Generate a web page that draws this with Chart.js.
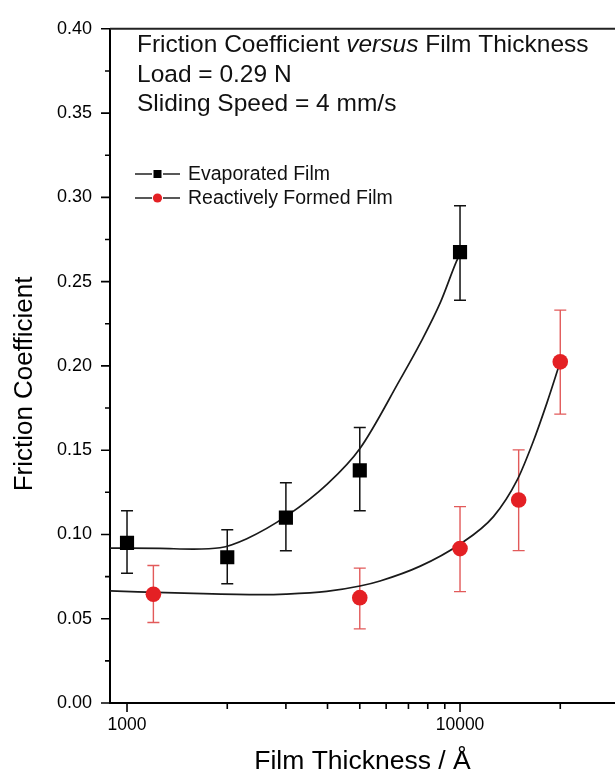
<!DOCTYPE html>
<html>
<head>
<meta charset="utf-8">
<script src="https://cdn.jsdelivr.net/npm/chart.js@4.4.0/dist/chart.umd.min.js"></script>
<style>
  html, body { margin: 0; padding: 0; background: #fff; }
  #wrap { width: 615px; height: 772px; }
</style>
</head>
<body>
<div id="wrap"><canvas id="myChart"></canvas></div>
<script>
// measured points (thickness in Å, friction coefficient)
const evapX = [1000, 2000, 3000, 5000, 10000];
const evapY = [0.095, 0.0865, 0.110, 0.138, 0.2675];
const evapErrLow = [0.077, 0.0708, 0.0904, 0.114, 0.239];
const evapErrHigh = [0.114, 0.1028, 0.1306, 0.1635, 0.295];

const reactX = [1200, 5000, 10000, 15000, 20000];
const reactY = [0.0645, 0.0625, 0.0916, 0.1204, 0.2024];
const reactErrLow = [0.0478, 0.044, 0.0661, 0.0904, 0.1714];
const reactErrHigh = [0.0816, 0.080, 0.1165, 0.1502, 0.2331];

// fitted curves
const evapFitX = [889, 1256, 1582, 1902, 2290, 3017, 4000, 5006, 6612, 7598, 8725, 9756, 10000];
const evapFitY = [0.0919, 0.0917, 0.0913, 0.0921, 0.0975, 0.111, 0.130, 0.151, 0.192, 0.2135, 0.2375, 0.262, 0.2665];
const reactFitX = [889, 1582, 2508, 3000, 3976, 5006, 5753, 7598, 9931, 12600, 14840, 16560, 18250, 20000];
const reactFitY = [0.0665, 0.0650, 0.0643, 0.0646, 0.0662, 0.0694, 0.0724, 0.0812, 0.0939, 0.1106, 0.1322, 0.1547, 0.1782, 0.2024];

// axis ticks
const xTicks = [1000, 2000, 3000, 4000, 5000, 6000, 7000, 8000, 9000, 10000, 20000];
const xLabels = [1000, 10000];
const yTicks = [0, 0.025, 0.05, 0.075, 0.1, 0.125, 0.15, 0.175, 0.2, 0.225, 0.25, 0.275, 0.3, 0.325, 0.35, 0.375, 0.4];

const FONT = '"Liberation Sans", Arial, Helvetica, sans-serif';
const RED = 'rgb(228,32,36)';
const RED_BAR = 'rgb(226,90,90)';

Chart.defaults.font.family = FONT;
Chart.defaults.color = '#000';

const toPts = (xs, ys) => xs.map((x, i) => ({ x: x, y: ys[i] }));
const isMajorY = v => Math.round(v * 1000) % 50 === 0;

// error bars, drawn under the markers
const errorBars = {
  id: 'errorBars',
  beforeDatasetsDraw(chart) {
    const ctx = chart.ctx;
    const xs = chart.scales.x, ys = chart.scales.y;
    chart.data.datasets.forEach(ds => {
      if (!ds.errLow) return;
      ctx.save();
      ctx.strokeStyle = ds.errColor;
      ctx.lineWidth = ds.errWidth;
      ds.data.forEach((p, i) => {
        const px = xs.getPixelForValue(p.x);
        const y1 = ys.getPixelForValue(ds.errLow[i]);
        const y2 = ys.getPixelForValue(ds.errHigh[i]);
        ctx.beginPath();
        ctx.moveTo(px, y1); ctx.lineTo(px, y2);
        ctx.moveTo(px - 6, y1); ctx.lineTo(px + 6, y1);
        ctx.moveTo(px - 6, y2); ctx.lineTo(px + 6, y2);
        ctx.stroke();
      });
      ctx.restore();
    });
  }
};

// tick marks, top frame, notes and legend
const decorations = {
  id: 'decorations',
  afterDraw(chart) {
    const ctx = chart.ctx;
    const area = chart.chartArea;
    const xs = chart.scales.x, ys = chart.scales.y;
    ctx.save();
    ctx.strokeStyle = '#000';
    ctx.lineWidth = 1.6;
    ctx.beginPath();
    xs.ticks.forEach(t => {
      const px = xs.getPixelForValue(t.value);
      const len = xLabels.includes(t.value) ? 9 : 6;
      ctx.moveTo(px, area.bottom); ctx.lineTo(px, area.bottom + len);
    });
    ys.ticks.forEach(t => {
      const py = ys.getPixelForValue(t.value);
      const len = isMajorY(t.value) ? 9 : 5;
      ctx.moveTo(area.left, py); ctx.lineTo(area.left - len, py);
    });
    ctx.stroke();

    // top frame line
    ctx.strokeStyle = '#222';
    ctx.lineWidth = 2;
    ctx.beginPath();
    ctx.moveTo(area.left, area.top); ctx.lineTo(area.right, area.top);
    ctx.stroke();

    // notes
    ctx.fillStyle = '#111';
    ctx.textBaseline = 'alphabetic';
    ctx.textAlign = 'left';
    let x = 137;
    ctx.font = '24.5px ' + FONT;
    const a = 'Friction Coefficient ';
    ctx.fillText(a, x, 52);
    x += ctx.measureText(a).width;
    ctx.font = 'italic 24.5px ' + FONT;
    ctx.fillText('versus', x, 52);
    x += ctx.measureText('versus').width;
    ctx.font = '24.5px ' + FONT;
    ctx.fillText(' Film Thickness', x, 52);
    ctx.fillText('Load = 0.29 N', 137, 82);
    ctx.fillText('Sliding Speed = 4 mm/s', 137, 111);

    // legend
    const rows = [
      { y: 174, text: chart.data.datasets[0].label, shape: 'rect' },
      { y: 198, text: chart.data.datasets[1].label, shape: 'circle' }
    ];
    ctx.font = '19.5px ' + FONT;
    ctx.textBaseline = 'middle';
    rows.forEach(r => {
      ctx.strokeStyle = '#222';
      ctx.lineWidth = 1.6;
      ctx.beginPath();
      ctx.moveTo(135, r.y); ctx.lineTo(152, r.y);
      ctx.moveTo(163, r.y); ctx.lineTo(180, r.y);
      ctx.stroke();
      if (r.shape === 'rect') {
        ctx.fillStyle = '#000';
        ctx.fillRect(153.5, r.y - 4, 8, 8);
      } else {
        ctx.fillStyle = RED;
        ctx.beginPath();
        ctx.arc(157.5, r.y, 4.6, 0, Math.PI * 2);
        ctx.fill();
      }
      ctx.fillStyle = '#111';
      ctx.fillText(r.text, 188, r.y + 1);
    });
    ctx.restore();
  }
};

const ctx = document.getElementById('myChart').getContext('2d');
new Chart(ctx, {
  type: 'scatter',
  data: {
    datasets: [
      {
        label: 'Evaporated Film',
        data: toPts(evapX, evapY),
        errLow: evapErrLow, errHigh: evapErrHigh,
        errColor: '#111', errWidth: 1.5,
        pointStyle: 'rect',
        pointRadius: 10,
        backgroundColor: '#000',
        borderColor: '#000',
        borderWidth: 0
      },
      {
        label: 'Reactively Formed Film',
        data: toPts(reactX, reactY),
        errLow: reactErrLow, errHigh: reactErrHigh,
        errColor: RED_BAR, errWidth: 1.4,
        pointStyle: 'circle',
        pointRadius: 7.8,
        backgroundColor: RED,
        borderColor: RED,
        borderWidth: 0
      },
      {
        label: 'evap fit',
        data: toPts(evapFitX, evapFitY),
        showLine: true,
        pointRadius: 0,
        borderColor: '#1a1a1a',
        borderWidth: 1.7,
        cubicInterpolationMode: 'monotone'
      },
      {
        label: 'reactive fit',
        data: toPts(reactFitX, reactFitY),
        showLine: true,
        pointRadius: 0,
        borderColor: '#1a1a1a',
        borderWidth: 1.7,
        cubicInterpolationMode: 'monotone'
      }
    ]
  },
  options: {
    responsive: true,
    maintainAspectRatio: false,
    animation: false,
    layout: { autoPadding: false, padding: { top: 23, right: 0, left: 0, bottom: 0 } },
    plugins: {
      legend: { display: false },
      tooltip: { enabled: false }
    },
    scales: {
      x: {
        type: 'logarithmic',
        min: 889,
        max: 29200,
        afterBuildTicks: s => { s.ticks = xTicks.map(v => ({ value: v })); },
        afterFit: s => { s.height = 69; },
        ticks: {
          autoSkip: false,
          maxRotation: 0,
          padding: 12,
          font: { size: 17.5 },
          color: '#000',
          callback: v => xLabels.includes(v) ? String(v) : ''
        },
        grid: { display: true, drawOnChartArea: false, drawTicks: false },
        border: { display: true, color: '#000', width: 2 },
        title: {
          display: true,
          text: 'Film Thickness / Å',
          font: { size: 26.5, lineHeight: 0.8 },
          color: '#000',
          padding: { top: 0, bottom: 0 }
        }
      },
      y: {
        min: 0,
        max: 0.4,
        afterBuildTicks: s => { s.ticks = yTicks.map(v => ({ value: v })); },
        afterFit: s => { s.width = 110; },
        ticks: {
          autoSkip: false,
          padding: 18,
          font: { size: 18 },
          color: '#000',
          callback: v => isMajorY(v) ? v.toFixed(2) : ''
        },
        grid: { display: true, drawOnChartArea: false, drawTicks: false },
        border: { display: true, color: '#000', width: 2 },
        title: {
          display: true,
          text: 'Friction Coefficient     ',
          font: { size: 26, lineHeight: 1 },
          color: '#000',
          padding: { top: 12, bottom: 0 }
        }
      }
    }
  },
  plugins: [errorBars, decorations]
});
</script>
</body>
</html>
